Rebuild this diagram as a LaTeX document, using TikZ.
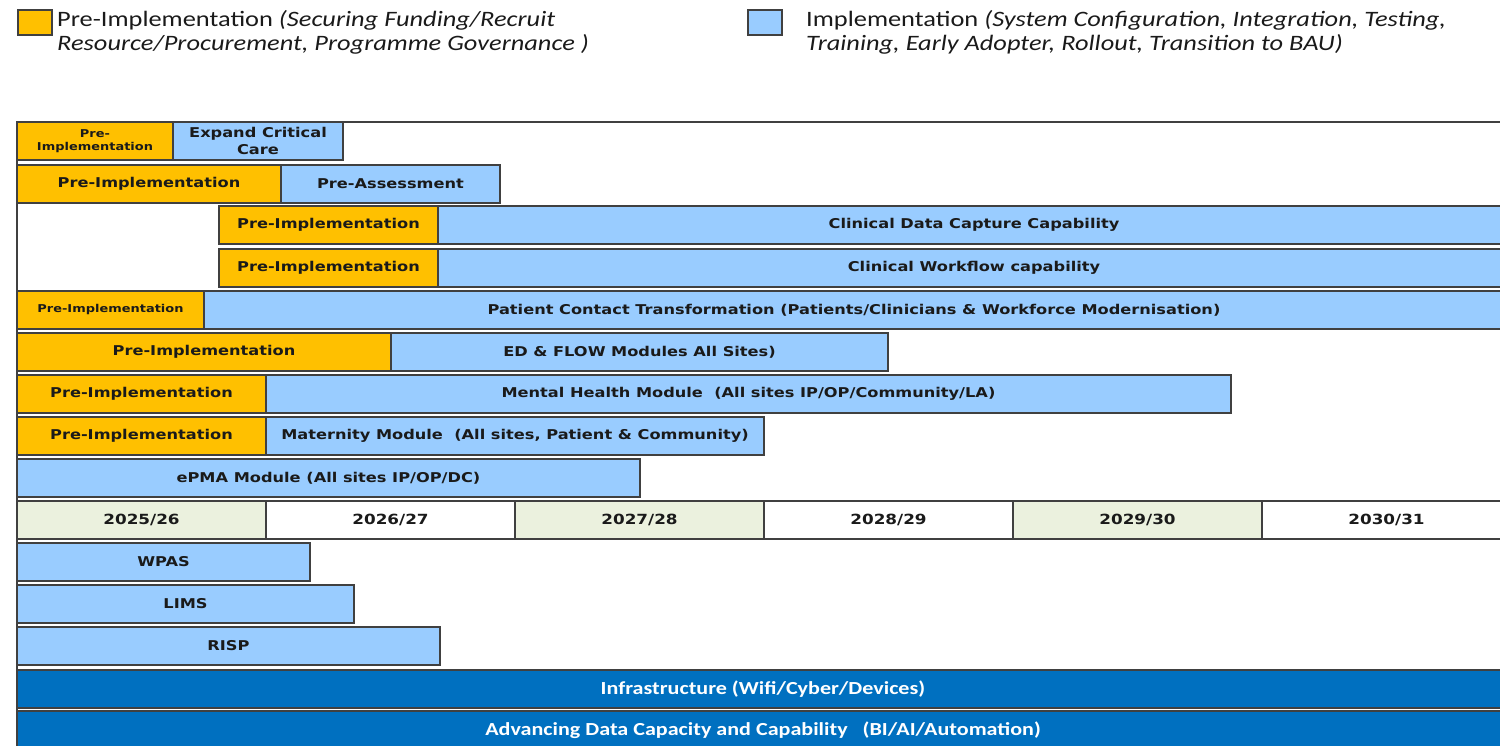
\documentclass[tikz,border=0pt]{standalone}
\usepackage{fontspec}
\setmainfont{DejaVu Sans}
\newfontfamily\barfont[FakeStretch=1.2]{DejaVu Sans}
\newfontfamily\calfont[FakeStretch=1.2]{Carlito}
\usetikzlibrary{positioning}
\definecolor{preorange}{HTML}{FFC000}
\definecolor{impblue}{HTML}{99CCFF}
\definecolor{coreblue}{HTML}{0070C0}
\definecolor{yeargreen}{HTML}{EBF1DE}
\definecolor{edgegrey}{HTML}{404040}
\definecolor{ink}{HTML}{1A1A1A}
\tikzset{
  bar/.style={draw=edgegrey, line width=1.4pt, minimum height=38pt, inner sep=0pt,
    outer sep=0pt, text=ink, align=center,
    font=\barfont\bfseries\fontsize{13.5}{17}\selectfont},
  pre/.style={bar, fill=preorange},
  impl/.style={bar, fill=impblue},
  small/.style={font=\barfont\bfseries\fontsize{10.8}{13}\selectfont},
  yr/.style={bar, minimum width=249pt, font=\barfont\bfseries\fontsize{14}{16}\selectfont},
  core/.style={bar, fill=coreblue, text=white, font=\calfont\bfseries\fontsize{18.4}{20}\selectfont},
  keybox/.style={draw=edgegrey, line width=1.2pt, minimum width=34pt, minimum height=25pt,
    inner sep=0pt, outer sep=0pt},
  keytext/.style={anchor=north west, align=left, inner sep=0pt, text=ink,
    font=\calfont\fontsize{22}{24}\selectfont},
}
\begin{document}
\begin{tikzpicture}[x=1pt, y=-1pt]
    \useasboundingbox (0,0) rectangle (1500,746);

    % legend
    \node[keybox, fill=preorange, anchor=north west] (keypre) at (18,10) {};
    \node[keytext] (keypretext) at (57,10)
        {Pre-Implementation \textit{(Securing Funding/Recruit}\\\textit{Resource/Procurement, Programme Governance )}};
    \node[keybox, fill=impblue, anchor=north west] (keyimpl) at (748,10) {};
    \node[keytext] (keyimpltext) at (806,10)
        {Implementation \textit{(System Configuration, Integration, Testing,}\\\textit{Training, Early Adopter, Rollout, Transition to BAU)}};

    % table frame
    \draw[edgegrey, line width=1.4pt] (1500,122) -- (17,122) -- (17,746);

    % programme rows
    \node[pre, small, minimum width=156pt, anchor=north west] (critpre) at (17,122) {Pre-\\Implementation};
    \node[impl, minimum width=170pt, right=0pt of critpre] (crit) {Expand Critical\\Care};

    \node[pre, minimum width=264pt, anchor=north west] (assesspre) at (17,165) {Pre-Implementation};
    \node[impl, minimum width=219pt, right=0pt of assesspre] (assess) {Pre-Assessment};

    \node[pre, minimum width=219pt, anchor=north west] (capturepre) at (219,206) {Pre-Implementation};
    \node[impl, minimum width=1072pt, right=0pt of capturepre] (capture) {Clinical Data Capture Capability};

    \node[pre, minimum width=219pt, anchor=north west] (workflowpre) at (219,249) {Pre-Implementation};
    \node[impl, minimum width=1072pt, right=0pt of workflowpre] (workflow) {Clinical Workflow capability};

    \node[pre, small, minimum width=187pt, anchor=north west] (contactpre) at (17,291) {Pre-Implementation};
    \node[impl, minimum width=1300pt, right=0pt of contactpre] (contact) {Patient Contact Transformation (Patients/Clinicians \& Workforce Modernisation)};

    \node[pre, minimum width=374pt, anchor=north west] (edpre) at (17,333) {Pre-Implementation};
    \node[impl, minimum width=497pt, right=0pt of edpre] (ed) {ED \& FLOW Modules All Sites)};

    \node[pre, minimum width=249pt, anchor=north west] (mhpre) at (17,375) {Pre-Implementation};
    \node[impl, minimum width=965pt, right=0pt of mhpre] (mh) {Mental Health Module\ \ (All sites IP/OP/Community/LA)};

    \node[pre, minimum width=249pt, anchor=north west] (matpre) at (17,417) {Pre-Implementation};
    \node[impl, minimum width=498pt, right=0pt of matpre] (mat) {Maternity Module\ \ (All sites, Patient \& Community)};

    \node[impl, minimum width=623pt, anchor=north west] (epma) at (17,459) {ePMA Module (All sites IP/OP/DC)};

    % financial years
    \node[yr, fill=yeargreen, anchor=north west] (fy1) at (17,501) {2025/26};
    \node[yr, fill=white, right=0pt of fy1] (fy2) {2026/27};
    \node[yr, fill=yeargreen, right=0pt of fy2] (fy3) {2027/28};
    \node[yr, fill=white, right=0pt of fy3] (fy4) {2028/29};
    \node[yr, fill=yeargreen, right=0pt of fy4] (fy5) {2029/30};
    \node[yr, fill=white, right=0pt of fy5] (fy6) {2030/31};

    % systems
    \node[impl, minimum width=293pt, anchor=north west] (wpas) at (17,543) {WPAS};
    \node[impl, minimum width=337pt, anchor=north west] (lims) at (17,585) {LIMS};
    \node[impl, minimum width=423pt, anchor=north west] (risp) at (17,627) {RISP};

    % foundations
    \node[core, minimum width=1492pt, anchor=north west] (infra) at (17,670) {Infrastructure (Wifi/Cyber/Devices)};
    \node[core, minimum width=1492pt, anchor=north west] (data) at (17,711) {Advancing Data Capacity and Capability\ \ \ (BI/AI/Automation)};
\end{tikzpicture}
\end{document}
